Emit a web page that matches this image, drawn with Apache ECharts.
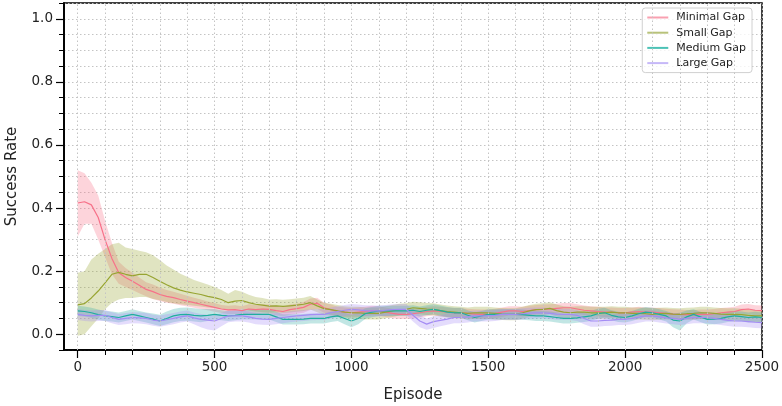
<!DOCTYPE html>
<html>
<head>
<meta charset="utf-8">
<script src="https://cdn.jsdelivr.net/npm/echarts@6/dist/echarts.min.js"></script>
<style>
  html, body { margin: 0; padding: 0; background: #fff; }
  #chart { width: 782px; height: 406px; }
</style>
</head>
<body>
<div id="chart"></div>
<script>
// episodes sampled every 25
const episodes = [
  0, 25, 50, 75, 100, 125, 150, 175, 200, 225,
  250, 275, 300, 325, 350, 375, 400, 425, 450, 475,
  500, 525, 550, 575, 600, 625, 650, 675, 700, 725,
  750, 775, 800, 825, 850, 875, 900, 925, 950, 975,
  1000, 1025, 1050, 1075, 1100, 1125, 1150, 1175, 1200, 1225,
  1250, 1275, 1300, 1325, 1350, 1375, 1400, 1425, 1450, 1475,
  1500, 1525, 1550, 1575, 1600, 1625, 1650, 1675, 1700, 1725,
  1750, 1775, 1800, 1825, 1850, 1875, 1900, 1925, 1950, 1975,
  2000, 2025, 2050, 2075, 2100, 2125, 2150, 2175, 2200, 2225,
  2250, 2275, 2300, 2325, 2350, 2375, 2400, 2425, 2450, 2475,
  2500
];

const minimalMean = [
  0.416,0.42,0.41,0.37,0.30,0.24,0.195,0.18,0.168,0.155,
  0.142,0.135,0.126,0.12,0.116,0.11,0.105,0.10,0.095,0.09,
  0.085,0.08,0.077,0.078,0.075,0.08,0.078,0.08,0.079,0.075,
  0.072,0.078,0.081,0.085,0.095,0.098,0.084,0.078,0.072,0.07,
  0.068,0.07,0.072,0.075,0.074,0.07,0.066,0.063,0.063,0.065,
  0.068,0.072,0.074,0.072,0.07,0.068,0.068,0.066,0.064,0.063,
  0.063,0.066,0.07,0.074,0.074,0.072,0.075,0.078,0.079,0.08,
  0.082,0.084,0.084,0.08,0.076,0.074,0.072,0.07,0.07,0.068,
  0.068,0.07,0.072,0.07,0.07,0.068,0.066,0.064,0.063,0.062,
  0.062,0.063,0.063,0.065,0.068,0.07,0.072,0.078,0.08,0.076,
  0.075
];
const minimalLo = [
  0.31,0.35,0.35,0.30,0.245,0.19,0.16,0.15,0.14,0.13,
  0.12,0.112,0.105,0.10,0.097,0.092,0.088,0.084,0.08,0.076,
  0.071,0.067,0.064,0.064,0.061,0.065,0.063,0.065,0.064,0.06,
  0.057,0.062,0.065,0.068,0.077,0.08,0.068,0.062,0.057,0.055,
  0.053,0.055,0.057,0.06,0.059,0.055,0.051,0.048,0.048,0.05,
  0.053,0.057,0.059,0.057,0.055,0.053,0.053,0.051,0.049,0.048,
  0.048,0.051,0.055,0.059,0.059,0.057,0.06,0.063,0.064,0.065,
  0.067,0.069,0.069,0.065,0.061,0.059,0.057,0.055,0.055,0.053,
  0.053,0.055,0.057,0.055,0.055,0.053,0.051,0.049,0.048,0.047,
  0.047,0.048,0.048,0.05,0.053,0.055,0.057,0.062,0.064,0.06,
  0.059
];
const minimalHi = [
  0.52,0.51,0.48,0.44,0.36,0.29,0.23,0.21,0.195,0.18,
  0.165,0.158,0.148,0.14,0.135,0.128,0.122,0.116,0.11,0.104,
  0.099,0.093,0.09,0.092,0.089,0.095,0.093,0.095,0.094,0.09,
  0.087,0.094,0.097,0.102,0.113,0.116,0.1,0.094,0.087,0.085,
  0.083,0.085,0.087,0.09,0.089,0.085,0.081,0.078,0.078,0.08,
  0.083,0.087,0.089,0.087,0.085,0.083,0.083,0.081,0.079,0.078,
  0.078,0.081,0.085,0.089,0.089,0.087,0.09,0.093,0.094,0.095,
  0.097,0.099,0.099,0.095,0.091,0.089,0.087,0.085,0.085,0.083,
  0.083,0.085,0.087,0.085,0.085,0.083,0.081,0.079,0.078,0.077,
  0.077,0.078,0.078,0.08,0.083,0.085,0.087,0.094,0.096,0.092,
  0.091
];

const smallMean = [
  0.093,0.097,0.115,0.137,0.163,0.19,0.196,0.19,0.185,0.19,
  0.19,0.18,0.168,0.157,0.147,0.14,0.134,0.13,0.126,0.12,
  0.116,0.11,0.10,0.105,0.107,0.1,0.095,0.092,0.089,0.09,
  0.088,0.09,0.092,0.095,0.1,0.09,0.081,0.078,0.074,0.07,
  0.068,0.068,0.066,0.066,0.066,0.07,0.074,0.078,0.079,0.084,
  0.082,0.08,0.079,0.075,0.072,0.07,0.068,0.066,0.068,0.068,
  0.068,0.066,0.064,0.063,0.063,0.068,0.074,0.078,0.079,0.082,
  0.075,0.07,0.068,0.07,0.07,0.068,0.068,0.068,0.07,0.068,
  0.068,0.066,0.066,0.065,0.063,0.065,0.066,0.064,0.063,0.065,
  0.066,0.068,0.068,0.066,0.064,0.063,0.063,0.062,0.06,0.058,
  0.058
];
const smallLo = [
  -0.005,0.0,0.025,0.05,0.079,0.10,0.11,0.115,0.115,0.118,
  0.118,0.112,0.108,0.102,0.098,0.095,0.093,0.09,0.088,0.085,
  0.083,0.08,0.075,0.078,0.08,0.075,0.072,0.07,0.068,0.069,
  0.067,0.069,0.071,0.074,0.078,0.07,0.062,0.059,0.055,0.051,
  0.049,0.049,0.047,0.047,0.047,0.051,0.055,0.059,0.06,0.065,
  0.063,0.061,0.06,0.056,0.053,0.051,0.049,0.047,0.049,0.049,
  0.049,0.047,0.045,0.044,0.044,0.049,0.055,0.059,0.06,0.063,
  0.056,0.051,0.049,0.051,0.051,0.049,0.049,0.049,0.051,0.049,
  0.049,0.047,0.047,0.046,0.044,0.046,0.047,0.045,0.044,0.046,
  0.047,0.049,0.049,0.047,0.045,0.044,0.044,0.043,0.041,0.039,
  0.039
];
const smallHi = [
  0.195,0.2,0.237,0.255,0.27,0.285,0.29,0.275,0.27,0.265,
  0.26,0.25,0.235,0.218,0.205,0.192,0.182,0.172,0.165,0.158,
  0.15,0.14,0.128,0.14,0.135,0.125,0.118,0.115,0.11,0.111,
  0.109,0.111,0.113,0.116,0.121,0.11,0.1,0.097,0.093,0.089,
  0.087,0.087,0.085,0.085,0.085,0.089,0.093,0.097,0.098,0.103,
  0.101,0.099,0.098,0.094,0.091,0.089,0.087,0.085,0.087,0.087,
  0.087,0.085,0.083,0.082,0.082,0.087,0.093,0.097,0.098,0.101,
  0.094,0.089,0.087,0.089,0.089,0.087,0.087,0.087,0.089,0.087,
  0.087,0.085,0.085,0.084,0.082,0.084,0.085,0.083,0.082,0.084,
  0.085,0.087,0.087,0.085,0.083,0.082,0.082,0.081,0.079,0.077,
  0.077
];

const mediumMean = [
  0.074,0.072,0.068,0.062,0.058,0.056,0.053,0.058,0.063,0.058,
  0.053,0.048,0.042,0.05,0.058,0.062,0.063,0.06,0.058,0.06,
  0.063,0.06,0.058,0.06,0.063,0.063,0.063,0.063,0.063,0.055,
  0.047,0.047,0.047,0.048,0.05,0.05,0.05,0.055,0.058,0.05,
  0.042,0.05,0.065,0.07,0.074,0.074,0.074,0.074,0.074,0.076,
  0.072,0.076,0.079,0.075,0.07,0.068,0.068,0.06,0.053,0.058,
  0.063,0.063,0.063,0.063,0.063,0.062,0.06,0.058,0.058,0.056,
  0.053,0.05,0.05,0.052,0.055,0.058,0.065,0.068,0.06,0.055,
  0.053,0.058,0.065,0.07,0.068,0.063,0.058,0.045,0.042,0.055,
  0.063,0.055,0.047,0.048,0.05,0.055,0.058,0.056,0.053,0.055,
  0.053
];
const mediumLo = [
  0.058,0.056,0.052,0.046,0.042,0.04,0.037,0.042,0.047,0.042,
  0.037,0.032,0.026,0.032,0.038,0.042,0.043,0.04,0.038,0.042,
  0.046,0.044,0.042,0.044,0.047,0.047,0.047,0.047,0.047,0.039,
  0.031,0.031,0.031,0.032,0.034,0.034,0.034,0.039,0.042,0.032,
  0.022,0.032,0.048,0.054,0.058,0.058,0.058,0.058,0.058,0.06,
  0.056,0.06,0.063,0.059,0.054,0.052,0.052,0.044,0.037,0.042,
  0.047,0.047,0.047,0.047,0.047,0.046,0.044,0.042,0.042,0.04,
  0.037,0.034,0.034,0.036,0.039,0.042,0.049,0.052,0.044,0.039,
  0.037,0.042,0.049,0.054,0.052,0.047,0.04,0.022,0.012,0.035,
  0.047,0.039,0.031,0.032,0.034,0.039,0.042,0.04,0.037,0.039,
  0.037
];
const mediumHi = [
  0.09,0.088,0.084,0.078,0.074,0.072,0.069,0.074,0.079,0.074,
  0.069,0.066,0.062,0.072,0.08,0.084,0.085,0.082,0.08,0.08,
  0.08,0.076,0.074,0.076,0.079,0.079,0.079,0.079,0.079,0.071,
  0.063,0.063,0.063,0.064,0.066,0.066,0.066,0.071,0.074,0.068,
  0.062,0.068,0.082,0.086,0.09,0.09,0.09,0.09,0.09,0.092,
  0.088,0.092,0.095,0.091,0.086,0.084,0.084,0.076,0.069,0.074,
  0.079,0.079,0.079,0.079,0.079,0.078,0.076,0.074,0.074,0.072,
  0.069,0.066,0.066,0.068,0.071,0.074,0.081,0.084,0.076,0.071,
  0.069,0.074,0.081,0.086,0.084,0.079,0.074,0.066,0.068,0.075,
  0.079,0.071,0.063,0.064,0.066,0.071,0.074,0.072,0.069,0.071,
  0.069
];

const largeMean = [
  0.063,0.06,0.058,0.06,0.06,0.053,0.047,0.05,0.053,0.052,
  0.05,0.045,0.042,0.046,0.05,0.055,0.058,0.052,0.047,0.045,
  0.042,0.05,0.058,0.058,0.058,0.055,0.05,0.048,0.047,0.05,
  0.053,0.056,0.058,0.06,0.062,0.063,0.063,0.068,0.072,0.076,
  0.079,0.077,0.075,0.074,0.074,0.076,0.078,0.079,0.079,0.06,
  0.042,0.032,0.04,0.044,0.048,0.053,0.053,0.055,0.058,0.058,
  0.058,0.06,0.063,0.063,0.063,0.065,0.067,0.068,0.068,0.066,
  0.064,0.063,0.063,0.06,0.05,0.042,0.042,0.044,0.045,0.047,
  0.047,0.05,0.054,0.058,0.058,0.055,0.052,0.05,0.047,0.05,
  0.053,0.053,0.053,0.05,0.047,0.044,0.042,0.042,0.04,0.038,
  0.037
];
const largeLo = [
  0.045,0.042,0.04,0.042,0.042,0.035,0.029,0.032,0.035,0.034,
  0.032,0.027,0.024,0.028,0.032,0.037,0.04,0.032,0.022,0.015,
  0.012,0.025,0.038,0.04,0.04,0.037,0.032,0.03,0.029,0.032,
  0.035,0.038,0.04,0.042,0.044,0.045,0.045,0.05,0.054,0.058,
  0.061,0.059,0.057,0.056,0.056,0.058,0.06,0.061,0.061,0.04,
  0.022,0.014,0.02,0.025,0.03,0.035,0.035,0.037,0.04,0.04,
  0.04,0.042,0.045,0.045,0.045,0.047,0.049,0.05,0.05,0.048,
  0.046,0.045,0.045,0.042,0.032,0.024,0.024,0.026,0.027,0.029,
  0.029,0.032,0.036,0.04,0.04,0.037,0.034,0.032,0.029,0.032,
  0.035,0.035,0.035,0.032,0.029,0.026,0.024,0.024,0.022,0.02,
  0.019
];
const largeHi = [
  0.08,0.077,0.075,0.077,0.077,0.07,0.064,0.067,0.07,0.069,
  0.067,0.062,0.059,0.063,0.067,0.072,0.075,0.069,0.064,0.062,
  0.059,0.067,0.075,0.075,0.075,0.072,0.067,0.065,0.064,0.067,
  0.07,0.073,0.075,0.077,0.079,0.08,0.08,0.085,0.089,0.093,
  0.096,0.094,0.092,0.091,0.091,0.093,0.095,0.096,0.096,0.078,
  0.06,0.05,0.057,0.061,0.065,0.07,0.07,0.072,0.075,0.075,
  0.075,0.077,0.08,0.08,0.08,0.082,0.084,0.085,0.085,0.083,
  0.081,0.08,0.08,0.077,0.067,0.059,0.059,0.061,0.062,0.064,
  0.064,0.067,0.071,0.075,0.075,0.072,0.069,0.067,0.064,0.067,
  0.07,0.07,0.07,0.067,0.064,0.061,0.059,0.059,0.057,0.055,
  0.054
];

const xMajorTicks = [0, 500, 1000, 1500, 2000, 2500];
const xMinorTicks = [0, 100, 200, 300, 400, 500, 600, 700, 800, 900, 1000, 1100, 1200,
  1300, 1400, 1500, 1600, 1700, 1800, 1900, 2000, 2100, 2200, 2300, 2400, 2500];
const yMajorTicks = [0, 0.2, 0.4, 0.6, 0.8, 1.0];

const groups = [
  { name: 'Minimal Gap', color: '#f77189', legend: '#f9a0b0', band: 'rgba(247,113,137,0.3)', mean: minimalMean, lo: minimalLo, hi: minimalHi },
  { name: 'Small Gap', color: '#97a431', legend: '#b8c27a', band: 'rgba(151,164,49,0.3)', mean: smallMean, lo: smallLo, hi: smallHi },
  { name: 'Medium Gap', color: '#1fae9f', legend: '#4cc2b6', band: 'rgba(54,173,164,0.3)', mean: mediumMean, lo: mediumLo, hi: mediumHi },
  { name: 'Large Gap', color: '#a48cf4', legend: '#c6b8f8', band: 'rgba(164,140,244,0.3)', mean: largeMean, lo: largeLo, hi: largeHi }
];

const pairs = (ys) => episodes.map((x, i) => [x, ys[i]]);
const gridStyle = { color: '#c4c4c4', type: [1.5, 2.5], width: 1 };

const series = [];
// vertical grid lines every 100 episodes
series.push({
  name: 'vgrid',
  type: 'line',
  data: [],
  silent: true,
  z: 1,
  markLine: {
    silent: true,
    symbol: ['none', 'none'],
    label: { show: false },
    lineStyle: gridStyle,
    emphasis: { disabled: true },
    data: xMinorTicks.map(v => ({ xAxis: v }))
  }
});
// confidence bands: one polygon each, placed with api.coord
groups.forEach((g) => {
  series.push({
    name: g.name + ' band',
    type: 'custom',
    data: [[0, 0]],
    silent: true,
    z: 2,
    renderItem: (params, api) => {
      const top = episodes.map((x, i) => api.coord([x, g.hi[i]]));
      const bottom = episodes.map((x, i) => api.coord([x, g.lo[i]])).reverse();
      return {
        type: 'polygon',
        shape: { points: top.concat(bottom) },
        style: { fill: g.band, stroke: null }
      };
    }
  });
});
groups.forEach((g) => {
  series.push({
    name: g.name,
    type: 'line',
    data: pairs(g.mean),
    symbol: 'none',
    lineStyle: { color: g.color, width: 1.2 },
    itemStyle: { color: g.color },
    z: 3
  });
});

const font = 'DejaVu Sans';
const chart = echarts.init(document.getElementById('chart'));
chart.setOption({
  animation: false,
  backgroundColor: '#fff',
  grid: {
    left: 64, right: 20, top: 3, bottom: 56,
    outerBoundsMode: 'none',
    containLabel: false,
    show: true, borderColor: '#000', borderWidth: 1.5, backgroundColor: 'transparent'
  },
  legend: {
    data: groups.map(g => ({ name: g.name, itemStyle: { color: g.legend } })),
    orient: 'vertical',
    right: 30, top: 8,
    icon: 'rect',
    itemWidth: 21, itemHeight: 2,
    itemGap: 4.2,
    padding: [4, 6, 4, 5],
    backgroundColor: 'rgba(255,255,255,0.8)',
    borderColor: '#d0d0d0', borderWidth: 1, borderRadius: 3,
    textStyle: { fontFamily: font, fontSize: 11, color: '#222', padding: [0, 0, 0, 3] }
  },
  xAxis: [
    {
      type: 'value', min: -50, max: 2500, position: 'bottom', offset: 0,
      axisLine: { show: true, onZero: false, lineStyle: { color: '#000', width: 1.5 } },
      axisTick: { show: true, customValues: xMinorTicks, length: 5, lineStyle: { color: '#000', width: 1 } },
      axisLabel: { show: false },
      splitLine: { show: false }
    },
    {
      type: 'value', min: -50, max: 2500, position: 'bottom', offset: 0,
      name: 'Episode', nameLocation: 'middle', nameGap: 38,
      nameTextStyle: { fontFamily: font, fontSize: 15, color: '#222' },
      axisLine: { show: true, onZero: false, lineStyle: { color: '#000', width: 1.5 } },
      axisTick: { show: true, customValues: xMajorTicks, length: 8, lineStyle: { color: '#000', width: 1.2 } },
      axisLabel: { customValues: xMajorTicks, margin: 10, fontFamily: font, fontSize: 13.5, color: '#222',
        formatter: v => String(v) },
      splitLine: { show: false }
    }
  ],
  yAxis: [
    {
      type: 'value', min: -0.05, max: 1.05, interval: 0.05, position: 'left', offset: 0,
      axisLine: { show: true, onZero: false, lineStyle: { color: '#000', width: 1.5 } },
      axisTick: { show: true, length: 5, lineStyle: { color: '#000', width: 1 } },
      axisLabel: { show: false },
      splitLine: { show: true, lineStyle: gridStyle }
    },
    {
      type: 'value', min: -0.05, max: 1.05, position: 'left', offset: 0,
      name: 'Success Rate', nameLocation: 'middle', nameGap: 44,
      nameTextStyle: { fontFamily: font, fontSize: 15, color: '#222' },
      axisLine: { show: true, onZero: false, lineStyle: { color: '#000', width: 1.5 } },
      axisTick: { show: true, customValues: yMajorTicks, length: 8, lineStyle: { color: '#000', width: 1.2 } },
      axisLabel: {
        customValues: yMajorTicks, margin: 11, fontFamily: font, fontSize: 13.5, color: '#222',
        formatter: v => v.toFixed(1)
      },
      splitLine: { show: false }
    }
  ],
  series: series
});
</script>
</body>
</html>
